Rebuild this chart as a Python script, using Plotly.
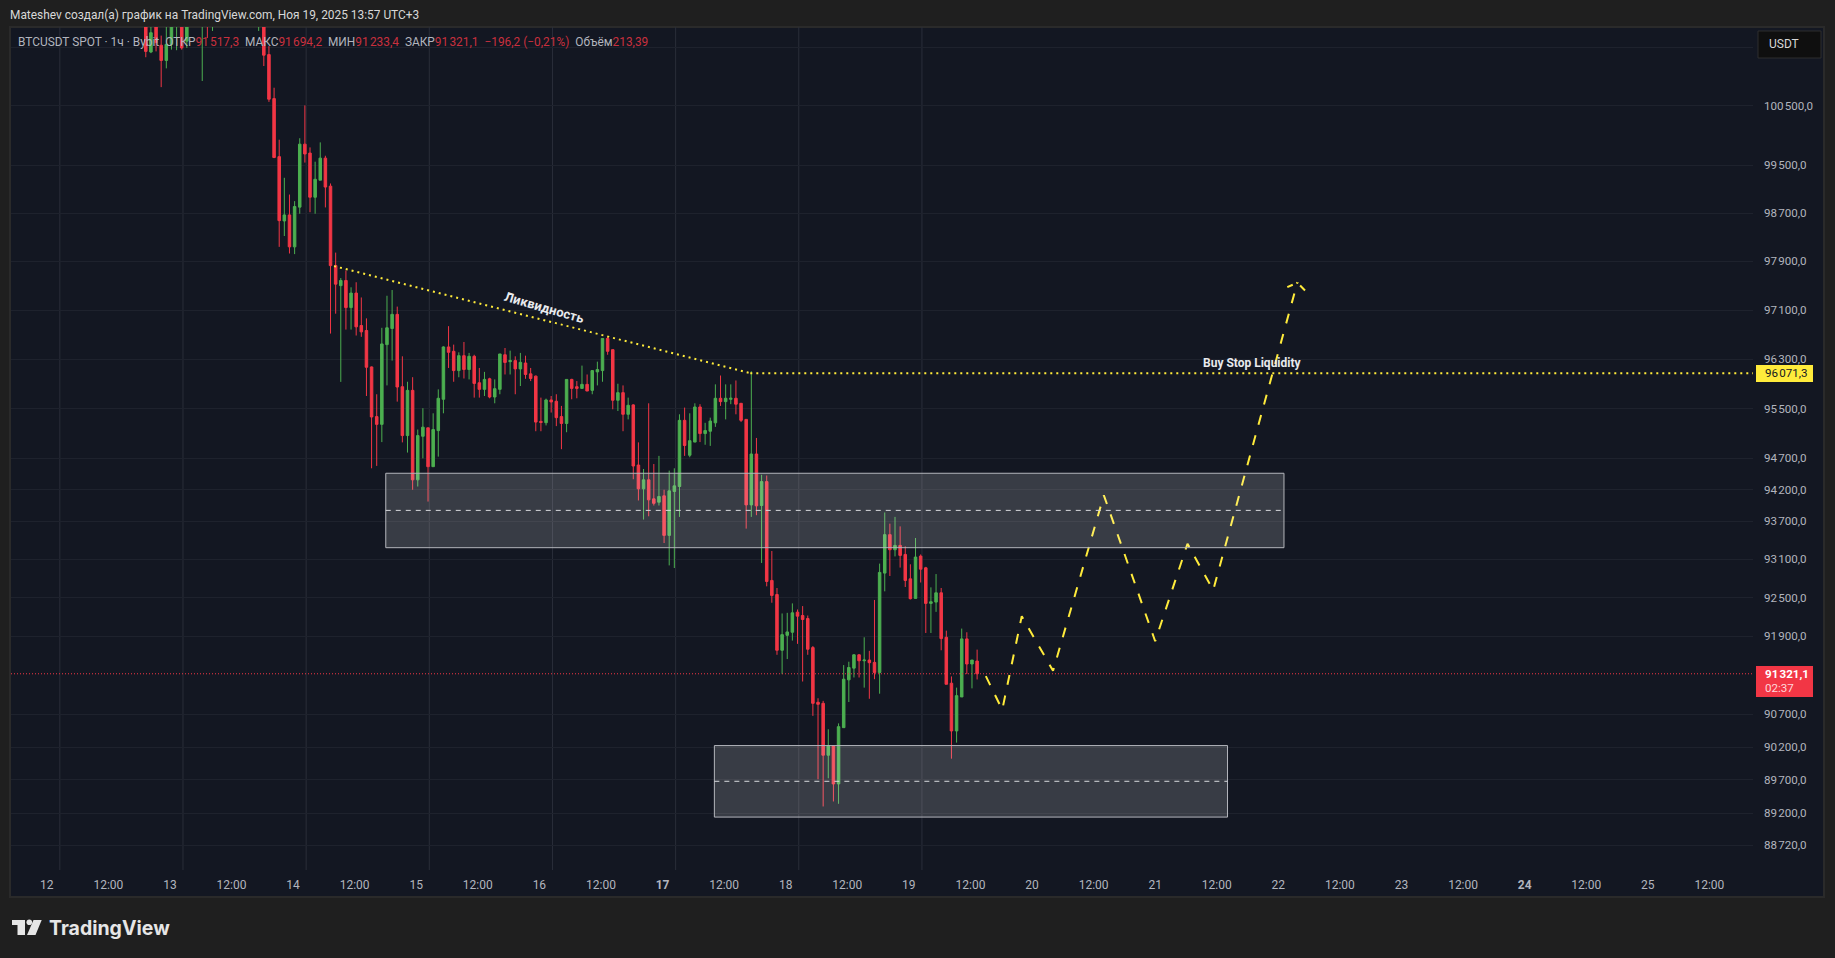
#!/usr/bin/env python3

import numpy as np
import pandas as pd
import plotly.graph_objects as go

# Hourly candles, first one is 2025-11-12 19:00 (chart time UTC+3)
first_candle = "2025-11-12 19:00"

opens = [
    102100, 101420, 102000, 101535, 101275, 101550, 102050, 102500, 101605, 102200,
    102500, 102300, 102600, 102100, 102400, 102600, 102800, 102600, 102400, 102700,
    102600, 102300, 102200, 102500, 101375, 100625, 99645, 98570, 98670, 98140,
    98800, 99855, 99705, 98965, 99250, 99620, 99150, 97830, 97500, 97585,
    97140, 97378, 96847, 96765, 96172, 95370, 95245, 96535, 96798, 97029,
    95852, 95065, 95793, 94358, 95054, 95190, 94568, 95145, 95649, 96497,
    96426, 96113, 96355, 96130, 96345, 95916, 95809, 95980, 95686, 95809,
    96370, 96258, 96275, 96140, 96236, 96060, 96023, 95293, 95272, 95638,
    95617, 95370, 95260, 95970, 95852, 95825, 95890, 95793, 96092, 96113,
    96635, 96453, 95633, 95756, 95407, 95558, 94594, 94215, 94358, 94056,
    94003, 94104, 93478, 94173, 94252, 95310, 94750, 94961, 95525, 95097,
    95135, 95270, 95665, 95611, 95649, 95665, 95584, 95325, 93960, 94770,
    93950, 94330, 92770, 92550, 91684, 91915, 91963, 92275, 92223, 92177,
    91725, 90883, 90867, 90075, 90215, 89640, 90495, 91228, 91408, 91614,
    91522, 91533, 91497, 91341, 92885, 93490, 93252, 93320, 93178, 92795,
    92490, 93152, 92968, 92412, 92432, 92577, 91885, 91176, 90445, 90965,
    91860, 91472, 91517.3,
]
highs = [
    102400, 102100, 102200, 101700, 101950, 102300, 102700, 102700, 102400, 102800,
    102700, 102900, 102800, 102600, 102700, 103000, 103100, 102900, 102800, 103000,
    102800, 102500, 102700, 102700, 101520, 100810, 99930, 99290, 99010, 98900,
    99955, 100510, 99800, 99560, 99885, 99660, 99195, 98045, 97625, 97750,
    97473, 97556, 97306, 96963, 96180, 95730, 96809, 97334, 97428, 97156,
    96345, 95932, 96006, 95162, 95505, 95190, 95423, 95809, 96508, 96836,
    96535, 96410, 96578, 96400, 96370, 96156, 96092, 95997, 95970, 96383,
    96480, 96437, 96345, 96400, 96355, 96156, 96033, 95676, 95660, 95702,
    95730, 95542, 95970, 95980, 95943, 96194, 96050, 96113, 96258, 96635,
    96662, 96453, 95900, 95873, 95676, 95570, 94956, 94531, 95584, 94610,
    94740, 94200, 94505, 94542, 95407, 95515, 95423, 95584, 95570, 95270,
    95353, 95890, 96033, 95890, 95890, 95953, 95584, 95325, 96103, 95027,
    94438, 94427, 93232, 92652, 92255, 92265, 92412, 92317, 92370, 92223,
    91750, 90945, 90905, 90470, 90225, 90560, 91455, 91507, 91624, 91624,
    91885, 91675, 92465, 93034, 93840, 93663, 93770, 93620, 93305, 93023,
    93437, 93178, 92983, 92662, 92870, 92652, 91988, 91280, 91108, 92020,
    91963, 91533, 91694.2,
]
lows = [
    101330, 101400, 101430, 100820, 101140, 101460, 101450, 101460, 101490, 102100,
    102100, 100925, 101660, 101780, 102200, 102400, 102500, 102300, 102200, 102500,
    102200, 102000, 101780, 101180, 100570, 99620, 98140, 98320, 98030, 98020,
    98690, 99545, 98715, 98690, 99250, 98795, 96715, 97040, 95930, 96780,
    96780, 96683, 96662, 95702, 94542, 94580, 94961, 95873, 96275, 95611,
    94956, 94793, 94200, 94252, 94700, 94013, 94565, 94728, 95423, 96156,
    95932, 96005, 95985, 95970, 95676, 95676, 95702, 95665, 95584, 95730,
    96050, 96050, 95730, 95863, 95980, 95943, 95135, 95135, 95228, 95435,
    95217, 94847, 95119, 95649, 95665, 95820, 95782, 95730, 95873, 95932,
    96370, 95488, 95460, 95135, 95325, 94368, 94030, 93728, 93780, 93950,
    93950, 93358, 93006, 92965, 93770, 94740, 94718, 94961, 94961, 94918,
    94900, 95205, 95542, 95325, 95570, 95407, 95282, 93585, 93770, 93797,
    93044, 92678, 92422, 91614, 91316, 91548, 91834, 91783, 91202, 91614,
    90675, 89710, 89300, 89725, 89375, 89340, 90495, 90887, 91264, 91264,
    91108, 90937, 91238, 91015, 92600, 92840, 93147, 92972, 92668, 92474,
    92490, 92738, 91952, 91952, 92280, 91684, 91160, 90023, 90267, 90965,
    91316, 91097, 91233.4,
]
closes = [
    101430, 101750, 101580, 101275, 101550, 102100, 102500, 101490, 102200, 102500,
    102300, 102600, 102100, 102400, 102600, 102800, 102600, 102400, 102700, 102600,
    102300, 102200, 102500, 101365, 100615, 99630, 98575, 98670, 98140, 98810,
    99855, 99690, 98965, 99265, 99620, 99135, 97830, 97525, 97585, 97140,
    97378, 96825, 96743, 96167, 95364, 95245, 96546, 96809, 97029, 95847,
    95065, 95793, 94358, 95065, 95200, 94568, 95162, 95665, 96497, 96410,
    96113, 96355, 96130, 96345, 95905, 95809, 95970, 95686, 95820, 96383,
    96245, 96275, 96140, 96247, 96050, 95985, 95282, 95277, 95638, 95606,
    95353, 95260, 95970, 95825, 95825, 95890, 95782, 96113, 96130, 96635,
    96426, 95633, 95756, 95407, 95552, 94578, 94215, 94358, 94040, 93985,
    94093, 93478, 94183, 94262, 95310, 94906, 94983, 95525, 95097, 95146,
    95298, 95665, 95611, 95665, 95665, 95570, 95310, 93960, 94770, 93945,
    94330, 92754, 92536, 91684, 91926, 91968, 92265, 92213, 92161, 91700,
    90867, 90852, 90075, 90215, 89640, 90510, 91238, 91418, 91614, 91522,
    91533, 91492, 91341, 92896, 93490, 93252, 93320, 93163, 92770, 92485,
    93137, 92947, 92412, 92437, 92577, 91865, 91160, 90445, 90985, 91860,
    91472, 91533, 91321.1,
]

# price scale
price_ticks = [101500, 100500, 99500, 98700, 97900, 97100, 96300, 95500, 94700, 94200,
               93700, 93100, 92500, 91900, 90700, 90200, 89700, 89200, 88720]
price_labels = ["", "100\u200a500,0", "99\u200a500,0", "98\u200a700,0", "97\u200a900,0", "97\u200a100,0",
                "96\u200a300,0", "95\u200a500,0", "94\u200a700,0", "94\u200a200,0", "93\u200a700,0",
                "93\u200a100,0", "92\u200a500,0", "91\u200a900,0", "90\u200a700,0", "90\u200a200,0",
                "89\u200a700,0", "89\u200a200,0", "88\u200a720,0"]
price_min = 88348
price_max = 101848

# time scale, labels sit a little left of the exact hour on the original
time_min = "2025-11-11 16:44"
time_max = "2025-11-25 20:12"
time_ticks = pd.date_range("2025-11-11 23:42", periods=28, freq="12h")
time_labels = ["12", "12:00", "13", "12:00", "14", "12:00", "15", "12:00", "16", "12:00",
               "<b>17</b>", "12:00", "18", "12:00", "19", "12:00", "20", "12:00", "21", "12:00",
               "22", "12:00", "23", "12:00", "<b>24</b>", "12:00", "25", "12:00"]
vertical_grid = pd.date_range("2025-11-12 02:15", periods=8, freq="24h")

# drawings
last_price = 91321.1
liquidity_level = 96071.3

trend_x = ["2025-11-14 07:42", "2025-11-17 16:48"]
trend_y = [97822, liquidity_level]
level_x = ["2025-11-17 16:48", time_max]

upper_zone_x = ["2025-11-14 17:46", "2025-11-22 00:48"]
upper_zone_y = [93284, 93873, 94463]
lower_zone_x = ["2025-11-17 09:48", "2025-11-21 13:48"]
lower_zone_y = [89140, 89680, 90222]

path_x = ["2025-11-19 14:42", "2025-11-19 17:54", "2025-11-19 21:42", "2025-11-20 03:48",
          "2025-11-20 13:42", "2025-11-20 23:42", "2025-11-21 06:00", "2025-11-21 11:00",
          "2025-11-22 03:24"]
path_y = [91285, 90768, 92213, 91367, 94112, 91824, 93347, 92617, 97549]
arrow_left_x = ["2025-11-22 03:24", "2025-11-22 01:24"]
arrow_left_y = [97549, 97473]
arrow_right_x = ["2025-11-22 03:24", "2025-11-22 05:18"]
arrow_right_y = [97549, 97385]

# colours
OUTER = "#1f1f1f"
PANE = "#131722"
GRID_H = "#1e222d"
GRID_V = "#2a2e39"
TEXT = "#b2b5be"
RED = "#f23645"
GREEN = "#4caf50"
YELLOW = "#ffeb3b"
LOGO = "#e6e6e6"
FONT = "Roboto"

WIDTH, HEIGHT = 1835, 958
LEFT, RIGHT, TOP, BOTTOM = 11, 82, 27, 88


def px(x):
    return (x - LEFT) / (WIDTH - LEFT - RIGHT)


def py(y):
    return 1 - (y - TOP) / (HEIGHT - TOP - BOTTOM)


def label(fig, x, y, text, size=12, color=TEXT, xanchor="left", angle=0, family=FONT):
    fig.add_annotation(xref="paper", yref="paper", x=px(x), y=py(y), text=text,
                       showarrow=False, xanchor=xanchor, yanchor="middle", textangle=angle,
                       font=dict(family=family, size=size, color=color))


def box(fig, x0, y0, x1, y1, fill, line=None, layer="above", width=1):
    fig.add_shape(type="rect", xref="paper", yref="paper", layer=layer,
                  x0=px(x0), x1=px(x1), y0=py(y0), y1=py(y1), fillcolor=fill,
                  line=dict(color=line or fill, width=width if line else 0))


def line_trace(x, y, color, dash, width=2):
    return go.Scatter(x=x, y=y, mode="lines", hoverinfo="skip",
                      line=dict(color=color, width=width, dash=dash))


candle_times = pd.date_range(first_candle, periods=len(opens), freq="h")

fig = go.Figure()
fig.add_trace(go.Candlestick(
    x=candle_times, open=opens, high=highs, low=lows, close=closes,
    increasing=dict(line=dict(color=GREEN, width=1), fillcolor=GREEN),
    decreasing=dict(line=dict(color=RED, width=1), fillcolor=RED),
    whiskerwidth=0,
))
fig.add_trace(line_trace([time_min, time_max], [last_price, last_price], RED, "1px,2px", 1))
fig.add_trace(line_trace(trend_x, trend_y, YELLOW, "2px,4px"))
fig.add_trace(line_trace(level_x, [liquidity_level, liquidity_level], YELLOW, "2px,4px"))
fig.add_trace(line_trace(path_x, path_y, YELLOW, "10px,11px"))
fig.add_trace(line_trace(arrow_left_x, arrow_left_y, YELLOW, "1px,4px,6px,8px"))
fig.add_trace(line_trace(arrow_right_x, arrow_right_y, YELLOW, "1px,3px,7px,8px"))

# pane behind everything
box(fig, 10, 27, 1824, 897, PANE, "#2a2a2a", layer="below", width=2)
for t in vertical_grid:
    fig.add_shape(type="line", layer="below", xref="x", yref="paper", x0=t, x1=t, y0=0, y1=1,
                  line=dict(color=GRID_V, width=1))

# zones
for zone_x, zone_y in [(upper_zone_x, upper_zone_y), (lower_zone_x, lower_zone_y)]:
    fig.add_shape(type="rect", xref="x", yref="y", x0=zone_x[0], x1=zone_x[1],
                  y0=zone_y[0], y1=zone_y[2], fillcolor="rgba(255,255,255,0.16)",
                  line=dict(color="#b4b6bc", width=1))
    fig.add_shape(type="line", xref="x", yref="y", x0=zone_x[0], x1=zone_x[1],
                  y0=zone_y[1], y1=zone_y[1], line=dict(color="#d8dade", width=1, dash="5px,5px"))

# header and legend
label(fig, 8, 15, "Mateshev создал(а) график на TradingView.com, Ноя 19, 2025 13:57 UTC+3", 11.9, "#d8d8d8")
red = '<span style="color:#c9303e">%s</span>'
legend = ("BTCUSDT SPOT · 1ч · Bybit\u00a0\u00a0ОТКР" + red % "91\u200a517,3"
          + "\u00a0\u00a0МАКС" + red % "91\u200a694,2"
          + "\u00a0\u00a0МИН" + red % "91\u200a233,4"
          + "\u00a0\u00a0ЗАКР" + red % "91\u200a321,1"
          + "\u00a0\u00a0" + red % "−196,2 (−0,21%)"
          + "\u00a0\u00a0Объём" + red % "213,39")
label(fig, 16, 41.5, legend, 11.9)

# chart notes
label(fig, 544, 308, "<b>Ликвидность</b>", 13, "#e8eaed", xanchor="center", angle=16)
label(fig, 1252, 363, "<b>Buy Stop Liquidity</b>", 12, "#e8eaed", xanchor="center")

# price scale tags
box(fig, 1758, 31, 1821, 58, "#0f0f0f", "#2e2e2e")
label(fig, 1767, 44.5, "USDT", 12, "#d8d8d8")
box(fig, 1756, 365, 1813, 382, YELLOW)
label(fig, 1763, 373.5, "96\u200a071,3", 11.6, "#131722")
box(fig, 1756, 666, 1813, 697, RED)
label(fig, 1763, 674, "<b>91\u200a321,1</b>", 11.6, "#ffffff")
label(fig, 1763, 688, "02:37", 11.6, "#ffd6da")

# TradingView logo
fig.add_shape(type="path", xref="paper", yref="paper", fillcolor=LOGO, line_width=0,
              path=f"M{px(12)},{py(920)} L{px(25)},{py(920)} L{px(25)},{py(935)} L{px(17.5)},{py(935)} "
                   f"L{px(17.5)},{py(925)} L{px(12)},{py(925)} Z")
fig.add_shape(type="path", xref="paper", yref="paper", fillcolor=LOGO, line_width=0,
              path=f"M{px(33.5)},{py(920)} L{px(41.7)},{py(920)} L{px(35.5)},{py(935)} L{px(27)},{py(935)} Z")
fig.add_shape(type="circle", xref="paper", yref="paper", fillcolor=LOGO, line_width=0,
              x0=px(26.5), x1=px(32.1), y0=py(919.5), y1=py(925.1))
label(fig, 46.5, 928, "<b>TradingView</b>", 19.5, LOGO, family="Inter")

fig.update_layout(
    width=WIDTH, height=HEIGHT,
    margin=dict(l=LEFT, r=RIGHT, t=TOP, b=BOTTOM, pad=0),
    paper_bgcolor=OUTER, plot_bgcolor=PANE,
    showlegend=False,
    boxgap=0.3,
    font=dict(family=FONT, size=12, color=TEXT),
    xaxis=dict(type="date", range=[time_min, time_max], rangeslider=dict(visible=False),
               tickmode="array", tickvals=time_ticks, ticktext=time_labels, showgrid=False,
               ticks="", ticklabelstandoff=6, showline=False, zeroline=False),
    yaxis=dict(type="log", side="right", range=[np.log10(price_min), np.log10(price_max)],
               tickmode="array", tickvals=price_ticks, ticktext=price_labels,
               tickfont=dict(size=11.6), showgrid=True, gridcolor=GRID_H, gridwidth=1,
               ticks="", ticklabelstandoff=10, showline=False, zeroline=False),
)

fig.write_html("out.html", config=dict(displayModeBar=False),
               post_script="document.body.style.margin='0';")
